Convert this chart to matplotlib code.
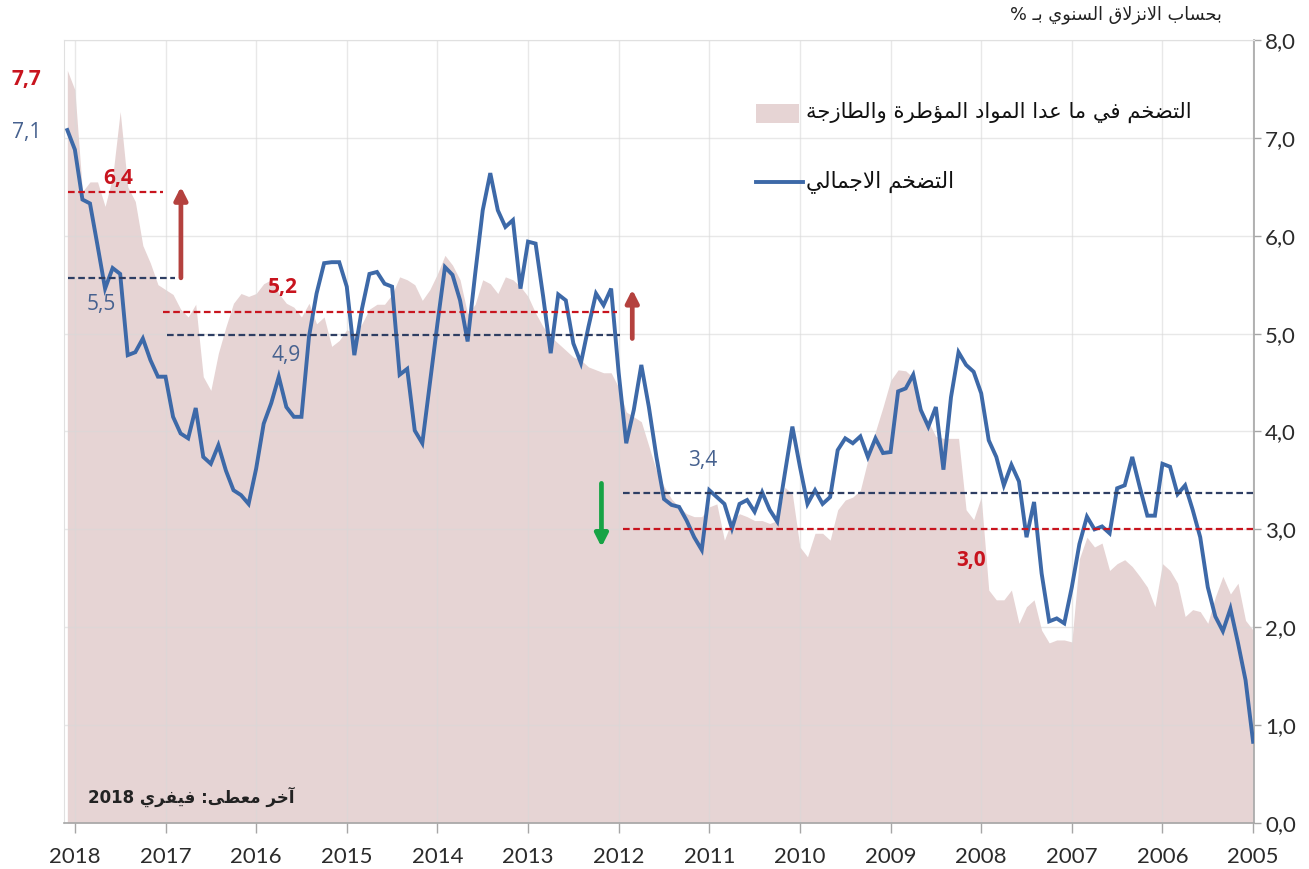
import re
import numpy as np
import matplotlib
matplotlib.use("Agg")
import matplotlib.pyplot as plt
from matplotlib.patches import Rectangle
from matplotlib.lines import Line2D

# ---------------- data (monthly, Jan 2005 -> Feb 2018) ----------------
start_year = 2005
headline = [
    0.83, 1.46, 1.84, 2.19, 1.96, 2.11, 2.41, 2.92, 3.20, 3.45, 3.36, 3.64,   # 2005
    3.67, 3.14, 3.14, 3.43, 3.74, 3.45, 3.42, 2.96, 3.03, 3.00, 3.13, 2.85,   # 2006
    2.41, 2.04, 2.09, 2.06, 2.55, 3.28, 2.92, 3.49, 3.66, 3.45, 3.74, 3.91,   # 2007
    4.39, 4.61, 4.68, 4.81, 4.35, 3.61, 4.25, 4.05, 4.22, 4.58, 4.44, 4.41,   # 2008
    3.79, 3.78, 3.93, 3.74, 3.95, 3.88, 3.93, 3.81, 3.33, 3.26, 3.40, 3.26,   # 2009
    3.64, 4.05, 3.57, 3.08, 3.20, 3.38, 3.18, 3.30, 3.26, 3.01, 3.26, 3.33,   # 2010
    3.40, 2.79, 2.92, 3.09, 3.23, 3.25, 3.31, 3.74, 4.25, 4.68, 4.22, 3.88,   # 2011
    4.60, 5.46, 5.29, 5.41, 5.07, 4.70, 4.90, 5.34, 5.40, 4.80, 5.38, 5.92,   # 2012
    5.94, 5.46, 6.16, 6.09, 6.26, 6.64, 6.26, 5.61, 4.92, 5.34, 5.60, 5.68,   # 2013
    5.10, 4.49, 3.88, 4.01, 4.64, 4.58, 5.48, 5.51, 5.63, 5.61, 5.25, 4.78,   # 2014
    5.48, 5.73, 5.73, 5.72, 5.41, 4.97, 4.15, 4.15, 4.25, 4.56, 4.29, 4.08,   # 2015
    3.62, 3.26, 3.35, 3.40, 3.60, 3.86, 3.67, 3.74, 4.24, 3.93, 3.98, 4.15,   # 2016
    4.56, 4.56, 4.73, 4.95, 4.81, 4.78, 5.61, 5.67, 5.46, 5.90, 6.33, 6.37,   # 2017
    6.88, 7.08,                                                               # 2018
]
core = [
    1.97, 2.07, 2.45, 2.34, 2.52, 2.31, 2.04, 2.16, 2.18, 2.11, 2.45, 2.58,   # 2005
    2.65, 2.21, 2.41, 2.52, 2.62, 2.69, 2.65, 2.58, 2.86, 2.82, 2.92, 2.70,   # 2006
    1.85, 1.87, 1.87, 1.84, 1.97, 2.28, 2.21, 2.04, 2.38, 2.28, 2.28, 2.38,   # 2007
    3.33, 3.10, 3.20, 3.93, 3.93, 3.93, 3.95, 4.10, 4.25, 4.55, 4.62, 4.63,   # 2008
    4.52, 4.25, 4.00, 3.71, 3.40, 3.33, 3.30, 3.20, 2.89, 2.96, 2.96, 2.72,   # 2009
    2.82, 3.36, 3.43, 3.09, 3.06, 3.09, 3.09, 3.13, 3.16, 3.09, 2.89, 3.26,   # 2010
    3.23, 3.13, 3.13, 3.16, 3.23, 3.31, 3.44, 3.60, 3.85, 4.10, 4.15, 4.20,   # 2011
    4.45, 4.60, 4.60, 4.63, 4.66, 4.73, 4.76, 4.83, 4.90, 4.97, 5.07, 5.21,   # 2012
    5.38, 5.48, 5.55, 5.58, 5.41, 5.51, 5.55, 5.30, 5.20, 5.55, 5.70, 5.80,   # 2013
    5.61, 5.45, 5.34, 5.50, 5.55, 5.58, 5.40, 5.30, 5.30, 5.25, 5.10, 5.00,   # 2014
    5.04, 4.93, 4.87, 5.17, 5.10, 5.31, 5.17, 5.27, 5.31, 5.41, 5.55, 5.51,   # 2015
    5.41, 5.38, 5.41, 5.31, 5.07, 4.80, 4.42, 4.56, 5.30, 5.17, 5.25, 5.40,   # 2016
    5.45, 5.50, 5.72, 5.90, 6.35, 6.50, 7.27, 6.60, 6.30, 6.55, 6.55, 6.45,   # 2017
    7.49, 7.69,                                                               # 2018
]
year_ticks = list(range(2005, 2019))
y_ticks = [0, 1, 2, 3, 4, 5, 6, 7, 8]

# reference levels (value, start year, end year)
avg_levels = [
    (6.45, 2018.08, 2017.03, "red"),
    (5.57, 2018.08, 2016.89, "navy"),
    (5.22, 2017.03, 2012.02, "red"),
    (4.99, 2016.98, 2011.98, "navy"),
    (3.37, 2011.95, 2005.0, "navy"),
    (3.00, 2011.95, 2005.0, "red"),
]
value_labels = [
    ("7,7", 2018.53, 7.60, "red", "bold"),
    ("7,1", 2018.53, 7.05, "navy", "normal"),
    ("6,4", 2017.52, 6.59, "red", "bold"),
    ("5,5", 2017.71, 5.30, "navy", "normal"),
    ("5,2", 2015.71, 5.47, "red", "bold"),
    ("4,9", 2015.67, 4.78, "navy", "normal"),
    ("3,4", 2011.07, 3.70, "navy", "normal"),
    ("3,0", 2008.11, 2.68, "red", "bold"),
]
arrows = [  # x, from, to, direction
    (2016.83, 5.57, 6.50, "up"),
    (2011.85, 4.95, 5.45, "up"),
    (2012.19, 3.47, 2.82, "down"),
]

title_txt = "بحساب الانزلاق السنوي بـ %"
legend_core = "التضخم في ما عدا المواد المؤطرة والطازجة"
legend_head = "التضخم الاجمالي"
note_txt = "آخر معطى: فيفري 2018"

# ---------------- minimal Arabic shaping ----------------
FORMS = {
    '\u0627': ('\uFE8D', '\uFE8E', None, None),
    '\u0622': ('\uFE81', '\uFE82', None, None),
    '\u0624': ('\uFE85', '\uFE86', None, None),
    '\u0628': ('\uFE8F', '\uFE90', '\uFE91', '\uFE92'),
    '\u0629': ('\uFE93', '\uFE94', None, None),
    '\u062A': ('\uFE95', '\uFE96', '\uFE97', '\uFE98'),
    '\u062C': ('\uFE9D', '\uFE9E', '\uFE9F', '\uFEA0'),
    '\u062D': ('\uFEA1', '\uFEA2', '\uFEA3', '\uFEA4'),
    '\u062E': ('\uFEA5', '\uFEA6', '\uFEA7', '\uFEA8'),
    '\u062F': ('\uFEA9', '\uFEAA', None, None),
    '\u0631': ('\uFEAD', '\uFEAE', None, None),
    '\u0632': ('\uFEAF', '\uFEB0', None, None),
    '\u0633': ('\uFEB1', '\uFEB2', '\uFEB3', '\uFEB4'),
    '\u0636': ('\uFEBD', '\uFEBE', '\uFEBF', '\uFEC0'),
    '\u0637': ('\uFEC1', '\uFEC2', '\uFEC3', '\uFEC4'),
    '\u0639': ('\uFEC9', '\uFECA', '\uFECB', '\uFECC'),
    '\u0641': ('\uFED1', '\uFED2', '\uFED3', '\uFED4'),
    '\u0642': ('\uFED5', '\uFED6', '\uFED7', '\uFED8'),
    '\u0644': ('\uFEDD', '\uFEDE', '\uFEDF', '\uFEE0'),
    '\u0645': ('\uFEE1', '\uFEE2', '\uFEE3', '\uFEE4'),
    '\u0646': ('\uFEE5', '\uFEE6', '\uFEE7', '\uFEE8'),
    '\u0648': ('\uFEED', '\uFEEE', None, None),
    '\u0649': ('\uFEEF', '\uFEF0', None, None),
    '\u064A': ('\uFEF1', '\uFEF2', '\uFEF3', '\uFEF4'),
    '\u0640': ('\u0640', '\u0640', '\u0640', '\u0640'),
    'LA': ('\uFEFB', '\uFEFC', None, None),
    'LAA': ('\uFEF5', '\uFEF6', None, None),
}


def shape(s):
    toks, k = [], 0
    while k < len(s):
        c = s[k]
        if c == '\u0644' and k + 1 < len(s) and s[k + 1] in ('\u0627', '\u0622'):
            toks.append('LA' if s[k + 1] == '\u0627' else 'LAA')
            k += 2
        else:
            toks.append(c)
            k += 1

    def dual(t):
        return t in FORMS and FORMS[t][2] is not None

    out = []
    for k, t in enumerate(toks):
        if t not in FORMS:
            out.append(t)
            continue
        prev = toks[k - 1] if k > 0 else None
        nxt = toks[k + 1] if k + 1 < len(toks) else None
        jp = prev is not None and dual(prev)
        jn = dual(t) and nxt is not None and nxt in FORMS
        f = FORMS[t]
        out.append(f[3] if (jp and jn) else f[1] if jp else f[2] if jn else f[0])
    vis = ''.join(out)[::-1]
    return re.sub(r'[0-9]+', lambda m: m.group(0)[::-1], vis)


# ---------------- figure ----------------
W, H = 1309, 869
fig = plt.figure(figsize=(W / 100, H / 100), dpi=100)
ax = fig.add_axes([64 / W, 1 - 823 / H, 1190 / W, 783 / H])

t = start_year + np.arange(len(headline)) / 12.0
PINK = "#E6D4D4"
BLUE = "#3D69A8"
RED = "#C8141E"
NAVY = "#2E3E63"
LBLUE = "#46618F"

ax.fill_between(t, 0, core, color=PINK, lw=0, zorder=0.2)
ax.plot(t, headline, color=BLUE, lw=2.8, zorder=3, solid_joinstyle="miter")

for val, x0, x1, c in avg_levels:
    ax.plot([x0, x1], [val, val], ls=(0, (3, 1.6)), lw=1.6,
            color=RED if c == "red" else NAVY, zorder=4)

for txt, x, y, c, w in value_labels:
    ax.text(x, y, txt, color=RED if c == "red" else LBLUE, fontsize=15,
            fontweight=w, family="Open Sans", ha="center", va="center",
            clip_on=False, zorder=6)

for x, y0, y1, d in arrows:
    col = "#B4413E" if d == "up" else "#17A345"
    ax.annotate("", xy=(x, y1), xytext=(x, y0),
                arrowprops=dict(arrowstyle="-|>,head_length=0.75,head_width=0.38",
                                color=col, lw=3.4, shrinkA=0, shrinkB=0),
                zorder=5)

ax.set_xlim(2018.12, 2004.99)
ax.set_ylim(0, 8)
ax.set_xticks(year_ticks)
ax.set_xticklabels([str(y) for y in year_ticks])
ax.set_yticks(y_ticks)
ax.set_yticklabels([f"{v},0" for v in y_ticks])
ax.yaxis.tick_right()
ax.tick_params(axis="x", direction="out", length=7, width=1, color="#A6A6A6",
               pad=10, labelsize=16, labelcolor="#2B2B2B")
ax.tick_params(axis="y", direction="out", length=5, width=1, color="#A6A6A6",
               pad=3, labelsize=16, labelcolor="#2B2B2B")
for lab in ax.get_xticklabels() + ax.get_yticklabels():
    lab.set_family("Lato")

ax.set_axisbelow(True)
ax.grid(True, color="#D9D9D9", lw=1, alpha=0.6)
for side in ("top", "left"):
    ax.spines[side].set_color("#E0E0E0")
for side in ("bottom", "right"):
    ax.spines[side].set_color("#A6A6A6")
    ax.spines[side].set_linewidth(1.2)

# ---------------- texts ----------------
def fx(px):
    return px / W


def fy(py):
    return 1 - py / H


ARFONT = ["DejaVu Sans"]
texts_fit = []
tt = fig.text(fx(1222), fy(15), shape(title_txt), ha="right", va="center",
              fontsize=11, family=ARFONT, color="#222222")
texts_fit.append((tt, 212))

fig.patches.append(Rectangle((fx(756), fy(123)), fx(799) - fx(756), fy(104) - fy(123),
                             transform=fig.transFigure, color=PINK, lw=0))
fig.lines.append(Line2D([fx(756), fx(803)], [fy(182), fy(182)], transform=fig.transFigure,
                        color=BLUE, lw=2.8))
l1 = fig.text(fx(806), fy(112), shape(legend_core), ha="left", va="center",
              fontsize=14, family=ARFONT, color="#111111")
texts_fit.append((l1, 390))
l2 = fig.text(fx(806), fy(182), shape(legend_head), ha="left", va="center",
              fontsize=14, family=ARFONT, color="#111111")
texts_fit.append((l2, 150))
nt = fig.text(fx(88), fy(797), shape(note_txt), ha="left", va="center",
              fontsize=13, family=ARFONT, fontweight="bold", color="#222222")
texts_fit.append((nt, 206))

renderer = fig.canvas.get_renderer()
for obj, target in texts_fit:
    bb = obj.get_window_extent(renderer)
    obj.set_fontsize(obj.get_fontsize() * target / bb.width)

fig.savefig("out.png", dpi=100, facecolor="white")
